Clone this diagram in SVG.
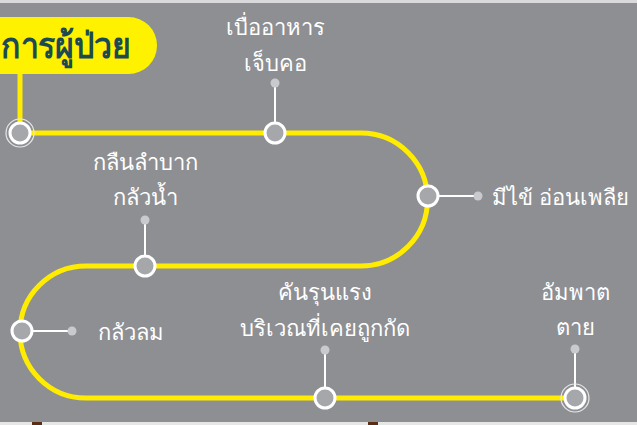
<svg xmlns="http://www.w3.org/2000/svg" width="637" height="425" viewBox="0 0 637 425">
<style>
.bg{fill:#8e8f93}
.track{fill:none;stroke:#ffec00;stroke-width:5}
.ring{fill:#a6a7ab;stroke:#ffffff;stroke-width:3}
.halo{fill:none;stroke:#e8e8ea;stroke-width:1.2}
.stem{stroke:#ffffff;stroke-width:2}
.dot{fill:#c9cacd}
.lbl{font-family:"Noto Sans","DejaVu Sans",sans-serif;font-size:22px;fill:#ffffff;font-weight:300}
.title{font-family:"Noto Sans","DejaVu Sans",sans-serif;font-size:36px;font-weight:700;fill:#1b4a52}
</style>
<rect class="bg" x="0" y="0" width="637" height="425"/>
<rect x="0" y="0" width="637" height="3" fill="#d9d9db"/>
<rect x="0" y="422" width="637" height="3" fill="#e6e6e6"/>
<rect x="32" y="422" width="10" height="3" fill="#5a2e12"/>
<rect x="368" y="422" width="10" height="3" fill="#5a2e12"/>

<g id="connectors">
<path class="track" d="M20 74 V133 H361 A66.5 66.5 0 0 1 361 266 H86 A66 66 0 0 0 86 398 H575"/>
</g>

<g id="title">
<rect x="-40" y="17" width="197" height="57" rx="28.5" fill="#fff200"/>
<text class="title" x="1" y="58" textLength="130" lengthAdjust="spacingAndGlyphs">การผู้ป่วย</text>
</g>

<g id="node-start">
<circle class="halo" cx="20" cy="133" r="14"/>
<circle class="ring" cx="20" cy="133" r="10"/>
</g>

<g id="node-appetite">
<line class="stem" x1="275" y1="83" x2="275" y2="133"/>
<circle class="dot" cx="275" cy="83" r="4.5"/>
<circle class="ring" cx="275" cy="133" r="10"/>
<text class="lbl" x="275" y="35" text-anchor="middle">เบื่ออาหาร</text>
<text class="lbl" x="275" y="71" text-anchor="middle">เจ็บคอ</text>
</g>

<g id="node-fever">
<line class="stem" x1="428" y1="196" x2="478" y2="196"/>
<circle class="dot" cx="478" cy="196" r="4.5"/>
<circle class="ring" cx="428" cy="196" r="10"/>
<text class="lbl" x="492" y="205">มีไข้ อ่อนเพลีย</text>
</g>

<g id="node-swallow">
<line class="stem" x1="145" y1="220" x2="145" y2="266"/>
<circle class="dot" cx="145" cy="220" r="4.5"/>
<circle class="ring" cx="145" cy="266" r="10"/>
<text class="lbl" x="145" y="170" text-anchor="middle">กลืนลำบาก</text>
<text class="lbl" x="145" y="205" text-anchor="middle">กลัวน้ำ</text>
</g>

<g id="node-wind">
<line class="stem" x1="22" y1="331" x2="72" y2="331"/>
<circle class="dot" cx="72" cy="331" r="4.5"/>
<circle class="ring" cx="22" cy="331" r="10"/>
<text class="lbl" x="98" y="340">กลัวลม</text>
</g>

<g id="node-itch">
<line class="stem" x1="325" y1="350" x2="325" y2="398"/>
<circle class="dot" cx="325" cy="350" r="4.5"/>
<circle class="ring" cx="325" cy="398" r="10"/>
<text class="lbl" x="325" y="300" text-anchor="middle">คันรุนแรง</text>
<text class="lbl" x="325" y="336" text-anchor="middle">บริเวณที่เคยถูกกัด</text>
</g>

<g id="node-end">
<line class="stem" x1="575" y1="349" x2="575" y2="398"/>
<circle class="dot" cx="575" cy="349" r="4.5"/>
<circle class="halo" cx="575" cy="398" r="14"/>
<circle class="ring" cx="575" cy="398" r="10"/>
<text class="lbl" x="575" y="300" text-anchor="middle">อัมพาต</text>
<text class="lbl" x="575" y="335" text-anchor="middle">ตาย</text>
</g>
</svg>
